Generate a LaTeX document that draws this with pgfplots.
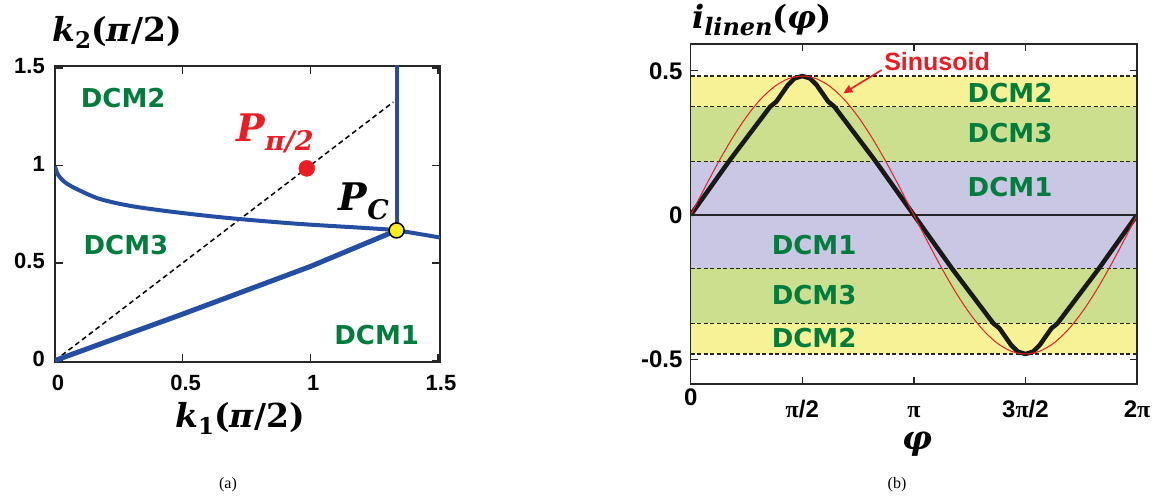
\documentclass[border=0pt]{standalone}
\usepackage{fix-cm}
\usepackage[no-math]{fontspec}
\setmainfont{Liberation Sans}
\newfontfamily\dejavu{DejaVu Sans}
\newfontfamily\mfont{DejaVu Serif}
\newfontfamily\serifpi{Liberation Serif}
\usepackage{pgfplots}
\pgfplotsset{compat=1.18}
\usetikzlibrary{arrows.meta}
\definecolor{blueline}{RGB}{35,78,162}
\definecolor{dcmgreen}{RGB}{0,125,60}
\definecolor{myred}{RGB}{237,28,36}
\definecolor{bandY}{RGB}{247,242,150}
\definecolor{bandG}{RGB}{204,223,143}
\definecolor{bandL}{RGB}{201,199,227}
\definecolor{pcyellow}{RGB}{250,238,30}
\newcommand{\dcmtext}[1]{{\fontsize{26}{30}\selectfont\dejavu\bfseries #1}}
\newcommand{\pii}{{\serifpi π}}
\begin{document}
\begin{tikzpicture}
\path[use as bounding box] (0pt,0pt) rectangle (1159pt,501pt);
\begin{axis}[at={(55pt,139pt)}, anchor=south west, scale only axis,
  width=385pt, height=296pt,
  xmin=0, xmax=1.508, ymin=-0.0077, ymax=1.51,
  xtick={0,0.5,1,1.5}, ytick={0,0.5,1,1.5},
  xticklabels={0,0.5,1,1.5}, yticklabels={0,0.5,1,1.5},
  tick align=inside, major tick length=8pt,
  axis line style={line width=1.5pt, black!85},
  every tick/.style={line width=1.3pt, black!85},
  tick label style={font=\fontsize{22}{25}\selectfont\bfseries, inner sep=0pt},
  xticklabel style={anchor=base, yshift=-28pt, xshift=3pt},
  yticklabel style={anchor=east, xshift=-10pt, yshift=2pt},
  ]
\addplot[black, line width=1.5pt, dash pattern=on 5pt off 3.5pt] coordinates {(0,0) (1.325,1.325)};
\addplot[blueline, line width=4pt, smooth] coordinates {(0,0.995) (0.012,0.952) (0.04,0.913) (0.085,0.879) (0.176,0.828) (0.307,0.790) (0.5,0.756) (0.7,0.728) (0.96,0.700) (1.22,0.679) (1.338,0.667) (1.51,0.630)};
\addplot[blueline, line width=5pt] coordinates {(0,0) (0.5,0.238) (1.0,0.482) (1.338,0.667)};
\addplot[blueline, line width=4pt] coordinates {(1.338,0.667) (1.338,1.52)};
\addplot[only marks, mark=*, mark size=8pt, myred] coordinates {(0.986,0.985)};
\addplot[only marks, mark=*, mark size=7.5pt, black, line width=1.5pt, mark options={fill=pcyellow}] coordinates {(1.338,0.667)};
\node[text=dcmgreen] at (axis cs:0.267,1.347) {\dcmtext{DCM2}};
\node[text=dcmgreen] at (axis cs:0.278,0.593) {\dcmtext{DCM3}};
\node[text=dcmgreen] at (axis cs:1.26,0.131) {\dcmtext{DCM1}};
\node[text=myred] at (axis cs:0.862,1.162) {\fontsize{38}{40}\selectfont\mfont\bfseries\itshape P\raisebox{-9pt}{\fontsize{27}{28}\selectfont π/2}};
\node[text=black] at (axis cs:1.21,0.818) {\fontsize{38}{40}\selectfont\mfont\bfseries\itshape P\raisebox{-9pt}{\fontsize{27}{28}\selectfont C}};
\end{axis}
\node at (117pt,469pt) {\fontsize{33}{36}\selectfont\mfont\bfseries{\itshape k}\raisebox{-7pt}{\fontsize{23}{24}\selectfont 2}({\itshape π}/2)};
\node at (240pt,83pt) {\fontsize{33}{36}\selectfont\mfont\bfseries{\itshape k}\raisebox{-7pt}{\fontsize{23}{24}\selectfont 1}({\itshape π}/2)};
\begin{axis}[at={(690.7pt,117pt)}, anchor=south west, scale only axis,
  width=446.3pt, height=340pt,
  xmin=0, xmax=2, ymin=-0.586, ymax=0.593,
  xtick={0,0.5,1,1.5,2}, ytick={-0.5,0,0.5},
  xticklabels={{\raisebox{12pt}{0}}, {\pii/2}, {\pii}, {3\pii/2}, {2\pii}},
  yticklabels={-0.5,0,0.5},
  tick align=inside, major tick length=7pt,
  axis on top,
  axis line style={line width=1.5pt, black!85},
  every tick/.style={line width=1.3pt, black!85},
  tick label style={font=\fontsize{24}{27}\selectfont\bfseries, inner sep=0pt},
  xticklabel style={anchor=base, yshift=-33pt},
  yticklabel style={anchor=east, xshift=-8pt},
  ]
\addplot[draw=none, fill=bandY] coordinates {(0,0.375) (2,0.375) (2,0.482) (0,0.482)} -- cycle;
\addplot[draw=none, fill=bandG] coordinates {(0,0.185) (2,0.185) (2,0.375) (0,0.375)} -- cycle;
\addplot[draw=none, fill=bandL] coordinates {(0,-0.185) (2,-0.185) (2,0.185) (0,0.185)} -- cycle;
\addplot[draw=none, fill=bandG] coordinates {(0,-0.375) (2,-0.375) (2,-0.185) (0,-0.185)} -- cycle;
\addplot[draw=none, fill=bandY] coordinates {(0,-0.482) (2,-0.482) (2,-0.375) (0,-0.375)} -- cycle;
\addplot[black!85, line width=1.2pt, dash pattern=on 4pt off 2.5pt] coordinates {(0,0.482) (2,0.482)};
\addplot[black!85, line width=1.2pt, dash pattern=on 4pt off 2.5pt] coordinates {(0,0.375) (2,0.375)};
\addplot[black!85, line width=1.2pt, dash pattern=on 4pt off 2.5pt] coordinates {(0,0.185) (2,0.185)};
\addplot[black!85, line width=1.2pt, dash pattern=on 4pt off 2.5pt] coordinates {(0,-0.185) (2,-0.185)};
\addplot[black!85, line width=1.2pt, dash pattern=on 4pt off 2.5pt] coordinates {(0,-0.375) (2,-0.375)};
\addplot[black!85, line width=1.2pt, dash pattern=on 4pt off 2.5pt] coordinates {(0,-0.482) (2,-0.482)};
\addplot[black!85, line width=1.3pt] coordinates {(0,0) (2,0)};
\addplot[black!90, line width=4.5pt, line join=round] coordinates {(0,0) (0.175,0.19) (0.3565,0.376) (0.3836,0.393) (0.436,0.451) (0.466,0.474) (0.5,0.482) (0.534,0.474) (0.564,0.451) (0.6164,0.393) (0.6435,0.376) (0.825,0.19) (1,0) (1.175,-0.19) (1.3565,-0.376) (1.3836,-0.393) (1.436,-0.451) (1.466,-0.474) (1.5,-0.482) (1.534,-0.474) (1.564,-0.451) (1.6164,-0.393) (1.6435,-0.376) (1.825,-0.19) (2,0)};
\addplot[myred, line width=1pt, smooth] coordinates {(0,0) (0.0625,0.0940) (0.125,0.1845) (0.1875,0.2678) (0.25,0.3408) (0.3125,0.4008) (0.375,0.4453) (0.4375,0.4727) (0.5,0.482) (0.5625,0.4727) (0.625,0.4453) (0.6875,0.4008) (0.75,0.3408) (0.8125,0.2678) (0.875,0.1845) (0.9375,0.0940) (1,0) (1.0625,-0.0940) (1.125,-0.1845) (1.1875,-0.2678) (1.25,-0.3408) (1.3125,-0.4008) (1.375,-0.4453) (1.4375,-0.4727) (1.5,-0.482) (1.5625,-0.4727) (1.625,-0.4453) (1.6875,-0.4008) (1.75,-0.3408) (1.8125,-0.2678) (1.875,-0.1845) (1.9375,-0.0940) (2,0)};
\node[text=dcmgreen] at (axis cs:1.431,0.423) {\dcmtext{DCM2}};
\node[text=dcmgreen] at (axis cs:1.431,0.284) {\dcmtext{DCM3}};
\node[text=dcmgreen] at (axis cs:1.431,0.097) {\dcmtext{DCM1}};
\node[text=dcmgreen] at (axis cs:0.553,-0.104) {\dcmtext{DCM1}};
\node[text=dcmgreen] at (axis cs:0.553,-0.277) {\dcmtext{DCM3}};
\node[text=dcmgreen] at (axis cs:0.553,-0.426) {\dcmtext{DCM2}};
\node[text=myred] at (axis cs:1.104,0.531) {\fontsize{25}{28}\selectfont\bfseries Sinusoid};
\draw[myred, line width=1.6pt, -{Triangle[length=9pt, width=8pt]}] (axis cs:0.856,0.503) -- (axis cs:0.684,0.422);
\end{axis}
\node at (762pt,481pt) {\fontsize{32}{34}\selectfont\mfont\bfseries{\itshape i}\raisebox{-7pt}{\fontsize{24}{26}\selectfont\itshape linen}({\itshape φ})};
\node[inner sep=0pt, anchor=base] at (917pt,52pt) {\fontsize{33}{35}\selectfont\mfont\bfseries\itshape φ};
\node at (228pt,16pt) {\fontsize{16}{18}\selectfont\serifpi (a)};
\node at (897pt,16pt) {\fontsize{16}{18}\selectfont\serifpi (b)};
\end{tikzpicture}
\end{document}
